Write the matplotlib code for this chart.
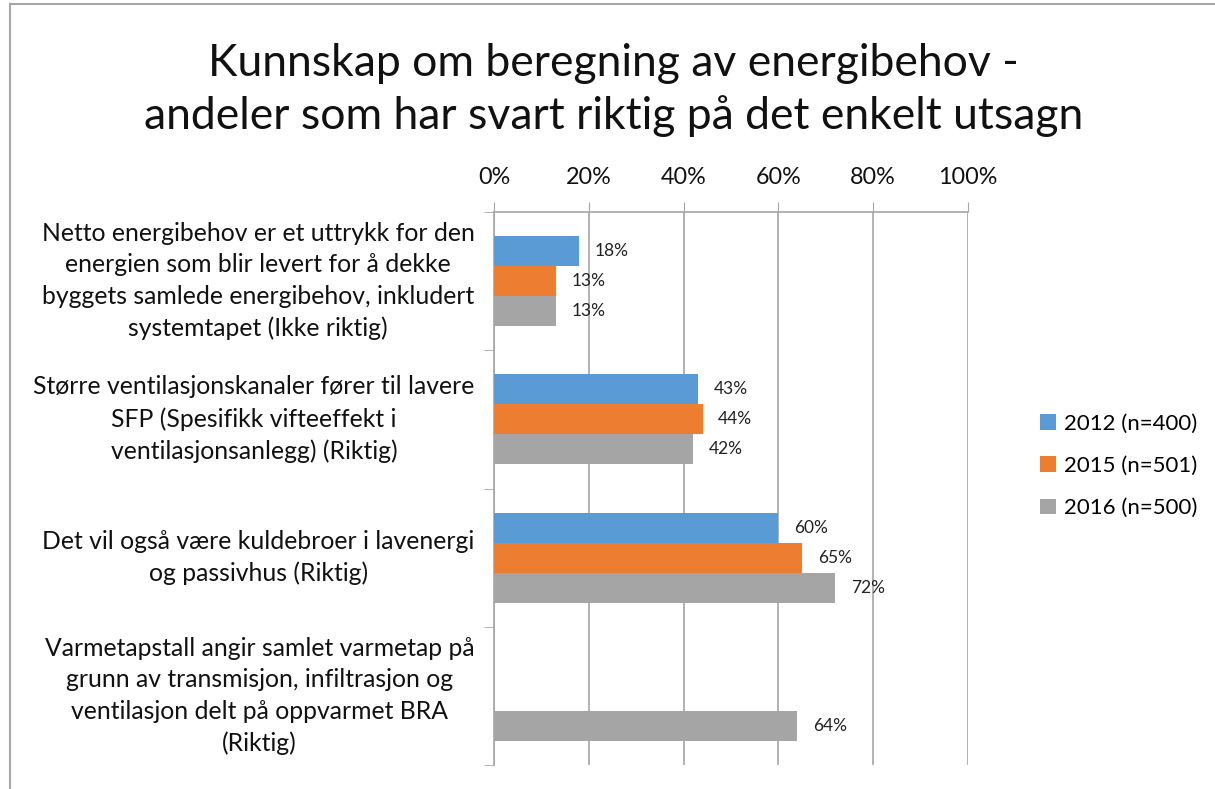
import matplotlib.pyplot as plt
import numpy as np
from matplotlib.lines import Line2D
from matplotlib.ticker import FuncFormatter

plt.rcParams['font.family'] = ['Lato', 'DejaVu Sans']

# Data
kategorier = [
    "Netto energibehov er et uttrykk for den\nenergien som blir levert for å dekke\nbyggets samlede energibehov, inkludert\nsystemtapet (Ikke riktig)",
    "Større ventilasjonskanaler fører til lavere\nSFP (Spesifikk vifteeffekt i\nventilasjonsanlegg) (Riktig)",
    "Det vil også være kuldebroer i lavenergi\nog passivhus (Riktig)",
    "Varmetapstall angir samlet varmetap på\ngrunn av transmisjon, infiltrasjon og\nventilasjon delt på oppvarmet BRA\n(Riktig)",
]
serier = ["2012 (n=400)", "2015 (n=501)", "2016 (n=500)"]
v2012 = [18, 43, 60, np.nan]
v2015 = [13, 44, 65, np.nan]
v2016 = [13, 42, 72, 64]
farger = ["#5B9BD5", "#ED7D31", "#A5A5A5"]

fig = plt.figure(figsize=(12.15, 7.89), dpi=100)
ax = fig.add_axes([494/1215, 1-765/789, 474/1215, (765-212)/789])

y = np.arange(len(kategorier))
h = 30/138
for i, (verdier, navn, farge) in enumerate(zip([v2012, v2015, v2016], serier, farger)):
    pos = y + (i-1)*h
    ax.barh(pos, verdier, height=h, color=farge, label=navn, zorder=3)
    for p, v in zip(pos, verdier):
        if not np.isnan(v):
            ax.text(v + 3.3, p, f"{v:.0f}%", va='center', ha='left', fontsize=12.5, color='#222222', zorder=4)

ax.set_xlim(0, 100)
ax.set_ylim(3.5, -0.5)
ax.xaxis.tick_top()
ax.set_xticks(np.arange(0, 101, 20))
ax.xaxis.set_major_formatter(FuncFormatter(lambda x, _: f"{x:.0f}%"))
ax.tick_params(axis='x', labelsize=16.8, length=7, color='#a6a6a6', pad=10, labelcolor='#111111')

ax.set_yticks(y)
ax.set_yticklabels(kategorier, fontsize=17.8, ma='center', linespacing=1.45, color='#111111', va='center')
ax.set_yticks(np.arange(-0.5, 4, 1), minor=True)
ax.tick_params(axis='y', which='major', length=0, pad=14)
ax.tick_params(axis='y', which='minor', length=7, color='#a6a6a6')

ax.grid(axis='x', color='#a6a6a6', linewidth=1.2, zorder=0)
for s in ['right', 'bottom']:
    ax.spines[s].set_visible(False)
for s in ['top', 'left']:
    ax.spines[s].set_color('#a6a6a6')
    ax.spines[s].set_linewidth(1.2)

fig.text(0.505, 1-90/789, "Kunnskap om beregning av energibehov -\nandeler som har svart riktig på det enkelt utsagn",
         ha='center', va='center', fontsize=32, linespacing=1.35, color='#111111')

fig.legend(loc='center left', bbox_to_anchor=(1020/1215, 1-466/789), frameon=False, fontsize=16,
           handlelength=0.7, handleheight=0.7, labelspacing=1.0, handletextpad=0.4)

# Ramme
fig.add_artist(Line2D([10/1215, 10/1215], [0, 1-4/789], color='#a6a6a6', linewidth=1.5, transform=fig.transFigure))
fig.add_artist(Line2D([10/1215, 1], [1-4/789, 1-4/789], color='#a6a6a6', linewidth=1.5, transform=fig.transFigure))

plt.savefig('out.png', dpi=100)
